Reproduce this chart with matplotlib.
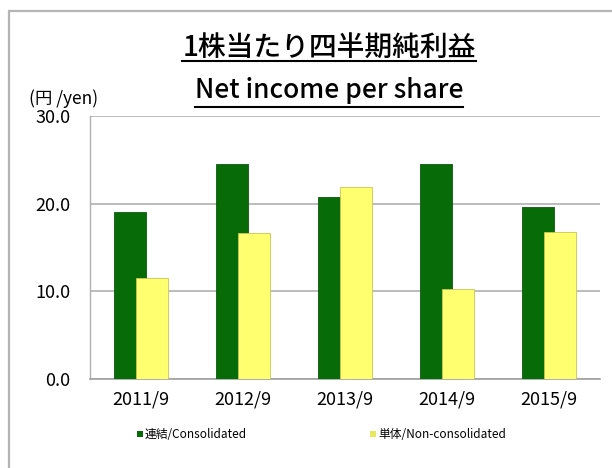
import matplotlib
matplotlib.use("Agg")
import matplotlib.pyplot as plt
from matplotlib.patches import Rectangle
import numpy as np

plt.rcParams['font.family'] = ['Noto Sans CJK JP', 'DejaVu Sans']

periods = ["2011/9", "2012/9", "2013/9", "2014/9", "2015/9"]
consolidated = [19.0, 24.5, 20.8, 24.5, 19.6]
non_consolidated = [11.5, 16.6, 21.9, 10.3, 16.8]
yticks = [0, 10, 20, 30]

GREEN = "#076b07"
YELLOW = "#ffff70"
W, H = 612.0, 468.0


def underlined_text(fig, x, y, s, size, line_y):
  t = fig.text(x / W, 1 - y / H, s, ha='center', va='center', fontsize=size, fontweight='medium')
  fig.canvas.draw()
  bb = t.get_window_extent().transformed(fig.transFigure.inverted())
  fig.add_artist(plt.Line2D([bb.x0, bb.x1], [1 - line_y / H, 1 - line_y / H],
                            transform=fig.transFigure, color='black', lw=1.5))
  return t


def main():
  fig = plt.figure(figsize=(6.12, 4.68), dpi=100)

  # outer frame
  fig.add_artist(Rectangle((9 / W, -0.1), 1.2, 1 - 11 / H + 0.1, transform=fig.transFigure,
                           fill=False, edgecolor='#b4b4b4', lw=1.6))

  ax = fig.add_axes([90 / W, 1 - 379 / H, 510 / W, (379 - 116) / H])
  x = np.arange(len(periods))
  ax.bar(x - 0.11, consolidated, width=0.31, color=GREEN, edgecolor='#0c5a0c', lw=0.6, zorder=3)
  ax.bar(x + 0.11, non_consolidated, width=0.31, color=YELLOW, edgecolor='#c8c850', lw=0.6, zorder=4)

  ax.set_xlim(-0.5, len(periods) - 0.5)
  ax.set_ylim(0, 30)
  ax.set_yticks(yticks)
  ax.set_yticklabels(["%.1f" % v for v in yticks], fontsize=13)
  ax.set_xticks(x)
  ax.set_xticklabels(periods, fontsize=13)
  ax.tick_params(axis='both', length=0, pad=8)
  ax.tick_params(axis='y', pad=14)
  ax.grid(axis='y', color='#b0b0b0', lw=1.2, zorder=0)
  for side in ['top', 'right']:
    ax.spines[side].set_visible(False)
  ax.spines['left'].set_color('#b0b0b0')
  ax.spines['bottom'].set_color('#a0a0a0')
  ax.spines['left'].set_linewidth(1.0)
  ax.spines['bottom'].set_linewidth(1.2)

  fig.text(64 / W, 1 - 99 / H, "(円 /yen)", ha='center', va='center', fontsize=12.5)

  underlined_text(fig, 329, 47, "1株当たり四半期純利益", 20, 61)
  underlined_text(fig, 329, 90, "Net income per share", 19, 107)

  # legend
  fig.add_artist(Rectangle((137 / W, 1 - 437 / H), 6 / W, 6 / H, transform=fig.transFigure,
                           facecolor=GREEN, edgecolor='none'))
  fig.text(145 / W, 1 - 434 / H, "連結/Consolidated", ha='left', va='center', fontsize=8.5)
  fig.add_artist(Rectangle((370 / W, 1 - 437 / H), 6 / W, 6 / H, transform=fig.transFigure,
                           facecolor='#e8e860', edgecolor='none'))
  fig.text(378 / W, 1 - 434 / H, "単体/Non-consolidated", ha='left', va='center', fontsize=8.5)

  fig.savefig("out.png", dpi=100)


if __name__ == "__main__":
  main()
